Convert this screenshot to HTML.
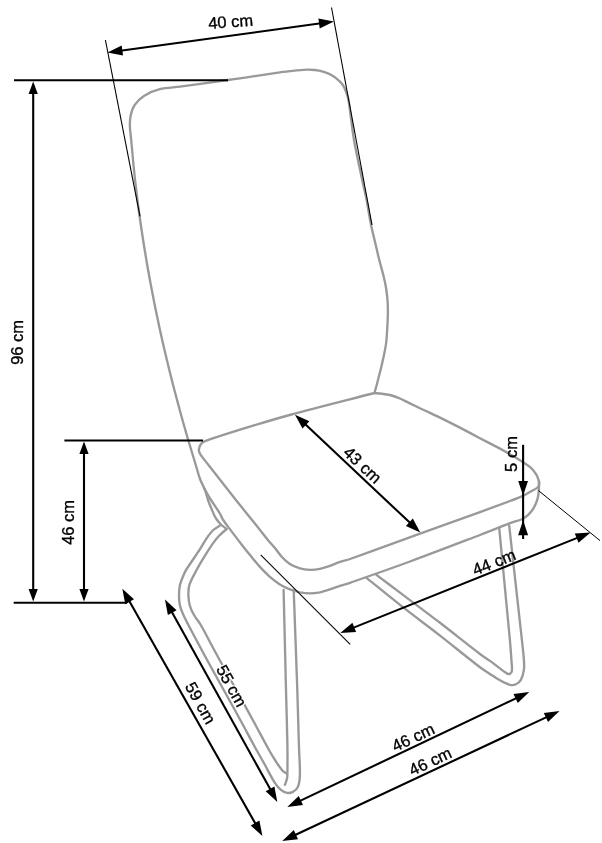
<!DOCTYPE html>
<html><head><meta charset="utf-8"><style>
html,body{margin:0;padding:0;background:#fff;}
body{width:602px;height:843px;overflow:hidden;}
svg{display:block;}
text{font-family:"Liberation Sans",sans-serif;fill:#000;stroke:#000;stroke-width:0.35px;}
svg{will-change:transform;}
</style></head><body>
<svg width="602" height="843" viewBox="0 0 602 843">
<path d="M226.5,529.0 C224.7,527.5 222.7,526.2 221.0,524.5 C219.2,522.7 217.4,520.7 216.0,518.5 C214.3,515.8 213.2,512.9 212.0,510.0 C210.6,506.7 209.2,503.4 208.0,500.0 C206.9,496.7 206.2,493.3 205.0,490.0 C203.6,486.2 201.4,482.8 200.0,479.0 C198.3,474.4 197.2,469.7 195.8,465.0 C193.3,456.7 190.7,448.4 188.2,440.0 C185.8,431.7 183.4,423.4 181.1,415.0 C178.8,406.7 176.6,398.3 174.4,390.0 C172.2,381.7 170.1,373.3 168.1,365.0 C166.1,356.7 164.1,348.4 162.2,340.0 C160.3,331.7 158.5,323.3 156.8,315.0 C155.1,306.7 153.4,298.3 151.8,290.0 C150.2,281.7 148.7,273.3 147.2,265.0 C145.8,256.7 144.4,248.3 143.1,240.0 C141.8,231.7 140.6,223.3 139.4,215.0 C138.3,206.7 137.2,198.3 136.2,190.0 C135.2,181.7 134.3,173.3 133.5,165.0 C132.7,156.7 132.0,148.3 131.2,140.0 C130.8,135.5 130.0,131.0 129.9,126.4 C129.8,122.9 129.8,119.3 130.6,115.8 C131.4,112.1 132.5,108.3 134.6,105.2 C137.0,101.6 140.2,98.2 143.9,95.9 C148.8,92.8 154.2,90.6 159.8,89.2 C166.4,87.5 173.3,87.5 180.0,86.6 C196.0,84.4 212.0,82.2 228.0,80.0 C232.0,79.4 236.0,78.9 240.0,78.3 C245.5,77.5 251.1,76.6 256.6,75.8 C262.1,75.0 267.7,74.1 273.2,73.3 C278.7,72.5 284.3,71.7 289.8,71.1 C295.3,70.5 300.8,69.8 306.4,69.6 C309.2,69.5 312.0,69.7 314.8,70.0 C317.6,70.3 320.3,70.8 323.0,71.6 C325.9,72.5 328.8,73.4 331.4,74.9 C334.5,76.7 337.4,79.1 340.0,81.6 C341.8,83.3 343.2,85.4 344.3,87.6 C345.9,90.8 347.2,94.3 348.0,97.8 C349.2,102.7 349.6,107.8 350.3,112.8 C351.6,121.9 352.4,131.0 354.0,140.0 C356.4,153.4 359.4,166.7 362.2,180.0 C363.6,186.7 365.3,193.3 366.6,200.0 C368.1,207.9 369.2,215.8 370.8,223.7 C372.0,229.7 373.5,235.6 374.9,241.5 C376.3,247.4 377.6,253.4 379.1,259.3 C380.6,265.3 382.4,271.1 383.8,277.1 C384.7,281.0 385.6,285.0 386.2,289.0 C386.8,292.6 387.2,296.3 387.5,300.0 C387.8,304.0 387.9,307.9 387.9,311.9 C387.9,315.8 387.7,319.8 387.5,323.7 C387.2,329.6 386.9,335.6 386.3,341.5 C385.9,345.5 385.1,349.5 384.3,353.4 C383.4,357.8 382.4,362.1 381.4,366.4 C380.3,371.2 379.0,375.9 377.8,380.7 C376.8,384.6 375.7,388.6 374.6,392.5" fill="none" stroke="#999999" stroke-width="2.35" stroke-linejoin="round" stroke-linecap="round"/>
<path d="M374.6,393.0 C376.4,393.2 378.2,393.3 380.0,393.5 C383.3,393.9 386.7,394.2 390.0,395.0 C393.4,395.9 396.7,397.1 399.9,398.5 C403.3,399.9 406.6,401.8 409.9,403.4 C413.2,405.0 416.6,406.6 419.9,408.2 C423.2,409.8 426.6,411.3 429.9,412.9 C433.3,414.5 436.7,416.0 440.0,417.6 C446.7,420.9 453.3,424.2 459.9,427.6 C466.6,431.1 473.2,434.7 479.9,438.2 C486.6,441.7 493.3,445.1 500.0,448.6 C503.4,450.4 506.7,452.3 510.0,454.2 C513.4,456.2 516.7,458.1 520.0,460.2 C523.4,462.3 526.9,464.3 529.9,466.9 C532.2,468.9 534.2,471.3 535.9,473.9 C537.3,476.0 538.2,478.5 538.9,480.9 C539.3,482.2 539.5,483.7 539.2,485.0 C539.0,486.0 538.3,487.0 537.5,487.6 C535.2,489.4 532.5,490.6 529.9,492.0 C527.7,493.2 525.6,494.6 523.3,495.6 C518.9,497.6 514.5,499.3 510.0,501.0 C500.0,504.8 490.0,508.5 480.0,512.1 C460.0,519.3 440.0,526.4 420.0,533.6 C396.7,542.0 373.4,550.7 350.0,559.0 C346.7,560.2 343.2,560.8 339.9,561.9 C336.5,563.1 333.3,564.7 329.9,565.9 C326.6,567.0 323.3,568.2 319.9,568.9 C316.6,569.6 313.2,570.0 309.9,569.9 C306.6,569.8 303.2,569.4 300.0,568.4 C296.5,567.3 293.0,565.9 289.9,563.9 C286.9,562.0 284.3,559.6 281.9,557.0 C279.3,554.2 277.3,550.9 274.9,548.0 C272.6,545.3 270.2,542.7 267.9,540.0 C265.2,536.7 262.7,533.2 260.0,529.9 C252.0,519.9 243.9,510.0 235.9,500.0 C226.7,488.4 217.6,476.7 208.5,465.0 C206.2,462.1 203.7,459.3 201.6,456.2 C200.6,454.8 199.6,453.3 199.1,451.6 C198.8,450.5 198.9,449.2 199.2,448.1 C199.5,446.7 200.1,445.3 200.9,444.2 C201.7,443.1 202.8,442.1 204.0,441.6 C210.9,438.8 217.9,436.5 225.0,434.3 C246.5,427.6 267.9,421.0 289.6,415.0 C317.8,407.2 346.3,400.3 374.6,393.0" fill="none" stroke="#999999" stroke-width="2.35" stroke-linejoin="round" stroke-linecap="round"/>
<path d="M204.0,488.0 C206.3,492.0 208.5,496.1 211.0,500.0 C213.9,504.6 217.1,508.9 219.9,513.5 C221.2,515.6 221.9,518.0 223.2,520.0 C225.2,523.2 227.6,526.1 229.9,529.1 C233.2,533.6 236.6,538.0 240.0,542.4 C243.3,546.6 246.6,550.8 250.0,555.0 C253.3,559.0 256.4,563.1 259.9,566.9 C263.1,570.4 266.4,573.8 269.9,576.9 C273.0,579.6 276.4,582.2 279.9,584.4 C283.1,586.4 286.4,588.0 289.9,589.4 C293.2,590.7 296.6,591.6 300.0,592.3 C303.3,592.9 306.6,593.3 309.9,593.3 C313.2,593.3 316.6,592.9 319.9,592.3 C323.3,591.6 326.6,590.5 329.9,589.4 C333.3,588.3 336.5,587.0 339.9,585.9 C343.2,584.8 346.7,584.0 350.0,582.8 C370.0,575.8 390.1,568.8 410.0,561.5 C433.4,552.9 456.7,543.9 480.0,535.0 C490.0,531.2 499.9,527.0 510.0,523.2 C513.9,521.7 518.2,520.9 522.0,519.2 C524.2,518.2 526.2,516.8 527.9,515.2 C530.0,513.3 531.8,511.0 533.3,508.6 C535.0,505.9 536.3,502.9 537.2,499.9 C538.2,496.7 538.6,493.3 538.9,490.0 C539.1,487.3 538.8,484.7 538.8,482.0" fill="none" stroke="#999999" stroke-width="2.35" stroke-linejoin="round" stroke-linecap="round"/>
<path d="M220.7,525.0 C218.2,526.7 215.5,528.0 213.3,530.0 C210.7,532.4 208.6,535.4 206.6,538.3 C204.2,541.8 202.3,545.6 200.0,549.1 C196.8,554.1 193.3,559.0 190.0,564.0 C188.3,566.6 186.3,569.1 185.0,571.9 C183.0,576.1 181.1,580.4 180.0,584.9 C179.1,588.4 179.0,592.2 179.0,595.8 C179.0,599.1 179.3,602.5 180.0,605.8 C180.6,608.6 181.8,611.3 183.0,614.0 C185.1,618.8 187.6,623.4 190.0,628.0 C193.8,635.4 197.8,642.7 201.7,650.0 C206.2,658.4 210.8,666.7 215.4,675.0 C220.0,683.3 224.7,691.7 229.3,700.0 C233.9,708.3 238.5,716.7 243.0,725.0 C247.5,733.3 251.9,741.7 256.5,750.0 C259.3,755.0 262.2,760.0 265.0,765.0 C268.3,771.0 271.2,777.2 274.9,782.9 C276.6,785.5 278.5,787.9 280.9,789.9 C282.6,791.3 284.7,792.5 286.9,792.9 C288.9,793.2 291.1,792.9 292.9,791.9 C295.0,790.8 297.0,789.1 297.9,786.9 C299.4,783.2 299.8,779.0 299.9,774.9 C300.1,764.9 299.2,755.0 298.9,745.0 C298.3,726.7 297.9,708.3 297.3,690.0 C296.2,656.7 294.9,623.3 293.7,590.0" fill="none" stroke="#999999" stroke-width="2.35" stroke-linejoin="round" stroke-linecap="round"/>
<path d="M226.5,529.1 C224.0,531.3 221.4,533.4 219.1,535.8 C216.7,538.4 214.5,541.2 212.4,544.1 C209.7,547.8 207.4,551.8 205.0,555.7 C202.1,560.4 199.2,565.1 196.6,570.0 C194.0,574.9 191.1,579.6 189.4,584.9 C188.3,588.4 188.3,592.2 188.4,595.8 C188.5,599.2 189.0,602.6 189.9,605.8 C190.8,609.0 192.3,612.1 194.0,615.0 C196.0,618.5 198.8,621.5 200.8,625.0 C205.5,633.2 209.7,641.7 214.2,650.0 C218.7,658.4 223.4,666.7 228.0,675.0 C232.6,683.3 237.3,691.6 241.9,700.0 C246.5,708.3 251.0,716.7 255.5,725.0 C260.0,733.3 264.4,741.7 269.0,750.0 C270.9,753.4 272.9,756.7 275.0,760.0 C277.2,763.4 279.3,766.8 281.9,769.9 C283.3,771.5 285.2,772.6 286.9,773.9" fill="none" stroke="#999999" stroke-width="2.35" stroke-linejoin="round" stroke-linecap="round"/>
<path d="M283.6,590.0 C284.4,623.3 285.2,656.7 286.0,690.0 C286.4,708.3 287.1,726.7 287.4,745.0 C287.6,754.6 287.5,764.3 287.4,773.9 C287.4,775.6 287.3,777.3 286.9,778.9 C286.4,781.0 285.6,782.9 284.9,784.9" fill="none" stroke="#999999" stroke-width="2.35" stroke-linejoin="round" stroke-linecap="round"/>
<path d="M376.4,574.9 C384.3,580.8 392.1,586.7 400.0,592.6 C413.3,602.7 426.7,612.6 440.0,622.8 C453.4,633.1 466.6,643.8 480.0,654.0 C483.2,656.5 486.7,658.5 490.0,660.9 C493.4,663.3 496.6,665.9 499.9,668.4 C502.2,670.1 504.4,672.0 506.9,673.4 C507.8,673.9 509.0,674.4 509.9,673.9 C511.0,673.4 511.8,672.1 511.9,670.9 C512.3,667.3 511.6,663.6 511.4,659.9 C511.0,653.3 510.5,646.6 509.9,640.0 C506.4,602.6 502.8,565.2 499.2,527.8" fill="none" stroke="#999999" stroke-width="2.35" stroke-linejoin="round" stroke-linecap="round"/>
<path d="M366.5,577.9 C377.7,586.9 388.7,596.0 400.0,604.9 C413.2,615.3 426.7,625.3 440.0,635.6 C453.4,646.0 466.5,656.9 480.0,667.2 C483.2,669.6 486.6,671.7 490.0,673.9 C493.3,676.1 496.5,678.4 499.9,680.3 C503.1,682.1 506.4,683.9 509.9,684.8 C511.8,685.3 514.1,685.1 515.9,684.3 C517.9,683.4 519.8,681.8 520.9,679.9 C522.6,676.9 523.4,673.3 523.9,669.9 C524.4,666.6 524.1,663.2 523.9,659.9 C523.5,653.2 522.6,646.6 521.9,640.0 C517.7,601.9 513.4,563.8 509.2,525.7" fill="none" stroke="#999999" stroke-width="2.35" stroke-linejoin="round" stroke-linecap="round"/>
<line x1="105.4" y1="40.0" x2="140.0" y2="216.4" stroke="#000" stroke-width="1.10"/>
<line x1="331.5" y1="7.5" x2="372.0" y2="225.0" stroke="#000" stroke-width="1.10"/>
<path d="M107.5,52.6 L121.7,45.6 L123.0,55.5 Z" fill="#000"/>
<path d="M333.9,21.5 L319.7,28.5 L318.4,18.6 Z" fill="#000"/>
<line x1="120.4" y1="50.8" x2="321.0" y2="23.3" stroke="#000" stroke-width="2.10"/>
<text transform="translate(230.6,21.4) rotate(-4.30)" x="0" y="5.9" text-anchor="middle" font-size="16.5">40 cm</text>
<line x1="14.0" y1="80.3" x2="228.0" y2="80.3" stroke="#000" stroke-width="2.10"/>
<line x1="13.7" y1="602.8" x2="127.1" y2="602.8" stroke="#000" stroke-width="2.10"/>
<path d="M33.2,81.5 L37.8,94.0 L28.6,94.0 Z" fill="#000"/>
<path d="M33.2,601.5 L28.6,589.0 L37.8,589.0 Z" fill="#000"/>
<line x1="33.2" y1="92.0" x2="33.2" y2="591.0" stroke="#000" stroke-width="2.10"/>
<text transform="translate(17.2,342.4) rotate(-90.00)" x="0" y="5.9" text-anchor="middle" font-size="16.5">96 cm</text>
<line x1="64.4" y1="440.5" x2="203.0" y2="440.5" stroke="#000" stroke-width="2.10"/>
<path d="M84.0,441.5 L88.6,454.0 L79.4,454.0 Z" fill="#000"/>
<path d="M84.0,601.5 L79.4,589.0 L88.6,589.0 Z" fill="#000"/>
<line x1="84.0" y1="452.0" x2="84.0" y2="591.0" stroke="#000" stroke-width="2.10"/>
<text transform="translate(68.4,522.4) rotate(-90.00)" x="0" y="5.9" text-anchor="middle" font-size="16.5">46 cm</text>
<path d="M295.0,414.7 L309.4,421.3 L302.5,428.6 Z" fill="#000"/>
<path d="M420.3,532.5 L405.9,525.9 L412.8,518.6 Z" fill="#000"/>
<line x1="304.5" y1="423.6" x2="410.8" y2="523.6" stroke="#000" stroke-width="2.10"/>
<text transform="translate(362.6,464.8) rotate(43.20)" x="0" y="5.9" text-anchor="middle" font-size="16.5">43 cm</text>
<line x1="523.1" y1="444.8" x2="523.1" y2="539.0" stroke="#000" stroke-width="2.10"/>
<path d="M523.1,495.4 L518.2,481.1 L528.0,481.1 Z" fill="#000"/>
<path d="M523.1,520.3 L528.1,535.3 L518.1,535.3 Z" fill="#000"/>
<text transform="translate(511.5,454.0) rotate(-90.00)" x="0" y="5.9" text-anchor="middle" font-size="16.5">5 cm</text>
<line x1="260.7" y1="554.8" x2="350.2" y2="644.3" stroke="#000" stroke-width="1.10"/>
<line x1="538.4" y1="490.5" x2="600.0" y2="540.6" stroke="#000" stroke-width="1.00"/>
<path d="M340.3,632.9 L352.4,622.7 L356.1,632.0 Z" fill="#000"/>
<path d="M590.6,532.6 L578.5,542.8 L574.8,533.5 Z" fill="#000"/>
<line x1="352.4" y1="628.1" x2="578.5" y2="537.4" stroke="#000" stroke-width="2.10"/>
<text transform="translate(494.0,562.0) rotate(-21.80)" x="0" y="5.9" text-anchor="middle" font-size="16.5">44 cm</text>
<path d="M122.3,588.7 L134.0,599.3 L125.3,604.2 Z" fill="#000"/>
<path d="M262.4,836.0 L250.7,825.4 L259.4,820.5 Z" fill="#000"/>
<line x1="128.7" y1="600.0" x2="256.0" y2="824.7" stroke="#000" stroke-width="2.10"/>
<text transform="translate(200.6,703.0) rotate(60.50)" x="0" y="5.9" text-anchor="middle" font-size="16.5">59 cm</text>
<path d="M165.0,599.6 L176.6,610.3 L167.9,615.1 Z" fill="#000"/>
<path d="M277.3,802.0 L265.7,791.3 L274.4,786.5 Z" fill="#000"/>
<line x1="171.3" y1="611.0" x2="271.0" y2="790.6" stroke="#000" stroke-width="2.10"/>
<text transform="translate(231.7,685.8) rotate(61.00)" x="0" y="5.9" text-anchor="middle" font-size="16.5" style="fill:#fff;stroke:#fff;stroke-width:3.0px">55 cm</text>
<text transform="translate(231.7,685.8) rotate(61.00)" x="0" y="5.9" text-anchor="middle" font-size="16.5">55 cm</text>
<path d="M287.3,807.0 L298.7,796.0 L303.0,805.1 Z" fill="#000"/>
<path d="M529.2,692.0 L517.8,703.0 L513.5,693.9 Z" fill="#000"/>
<line x1="299.0" y1="801.4" x2="517.5" y2="697.6" stroke="#000" stroke-width="2.10"/>
<text transform="translate(413.0,737.1) rotate(-25.40)" x="0" y="5.9" text-anchor="middle" font-size="16.5">46 cm</text>
<path d="M282.3,841.0 L293.8,830.1 L298.0,839.2 Z" fill="#000"/>
<path d="M559.5,711.1 L548.0,722.0 L543.8,712.9 Z" fill="#000"/>
<line x1="294.1" y1="835.5" x2="547.7" y2="716.6" stroke="#000" stroke-width="2.10"/>
<text transform="translate(430.2,761.2) rotate(-25.10)" x="0" y="5.9" text-anchor="middle" font-size="16.5">46 cm</text>
</svg>
</body></html>
